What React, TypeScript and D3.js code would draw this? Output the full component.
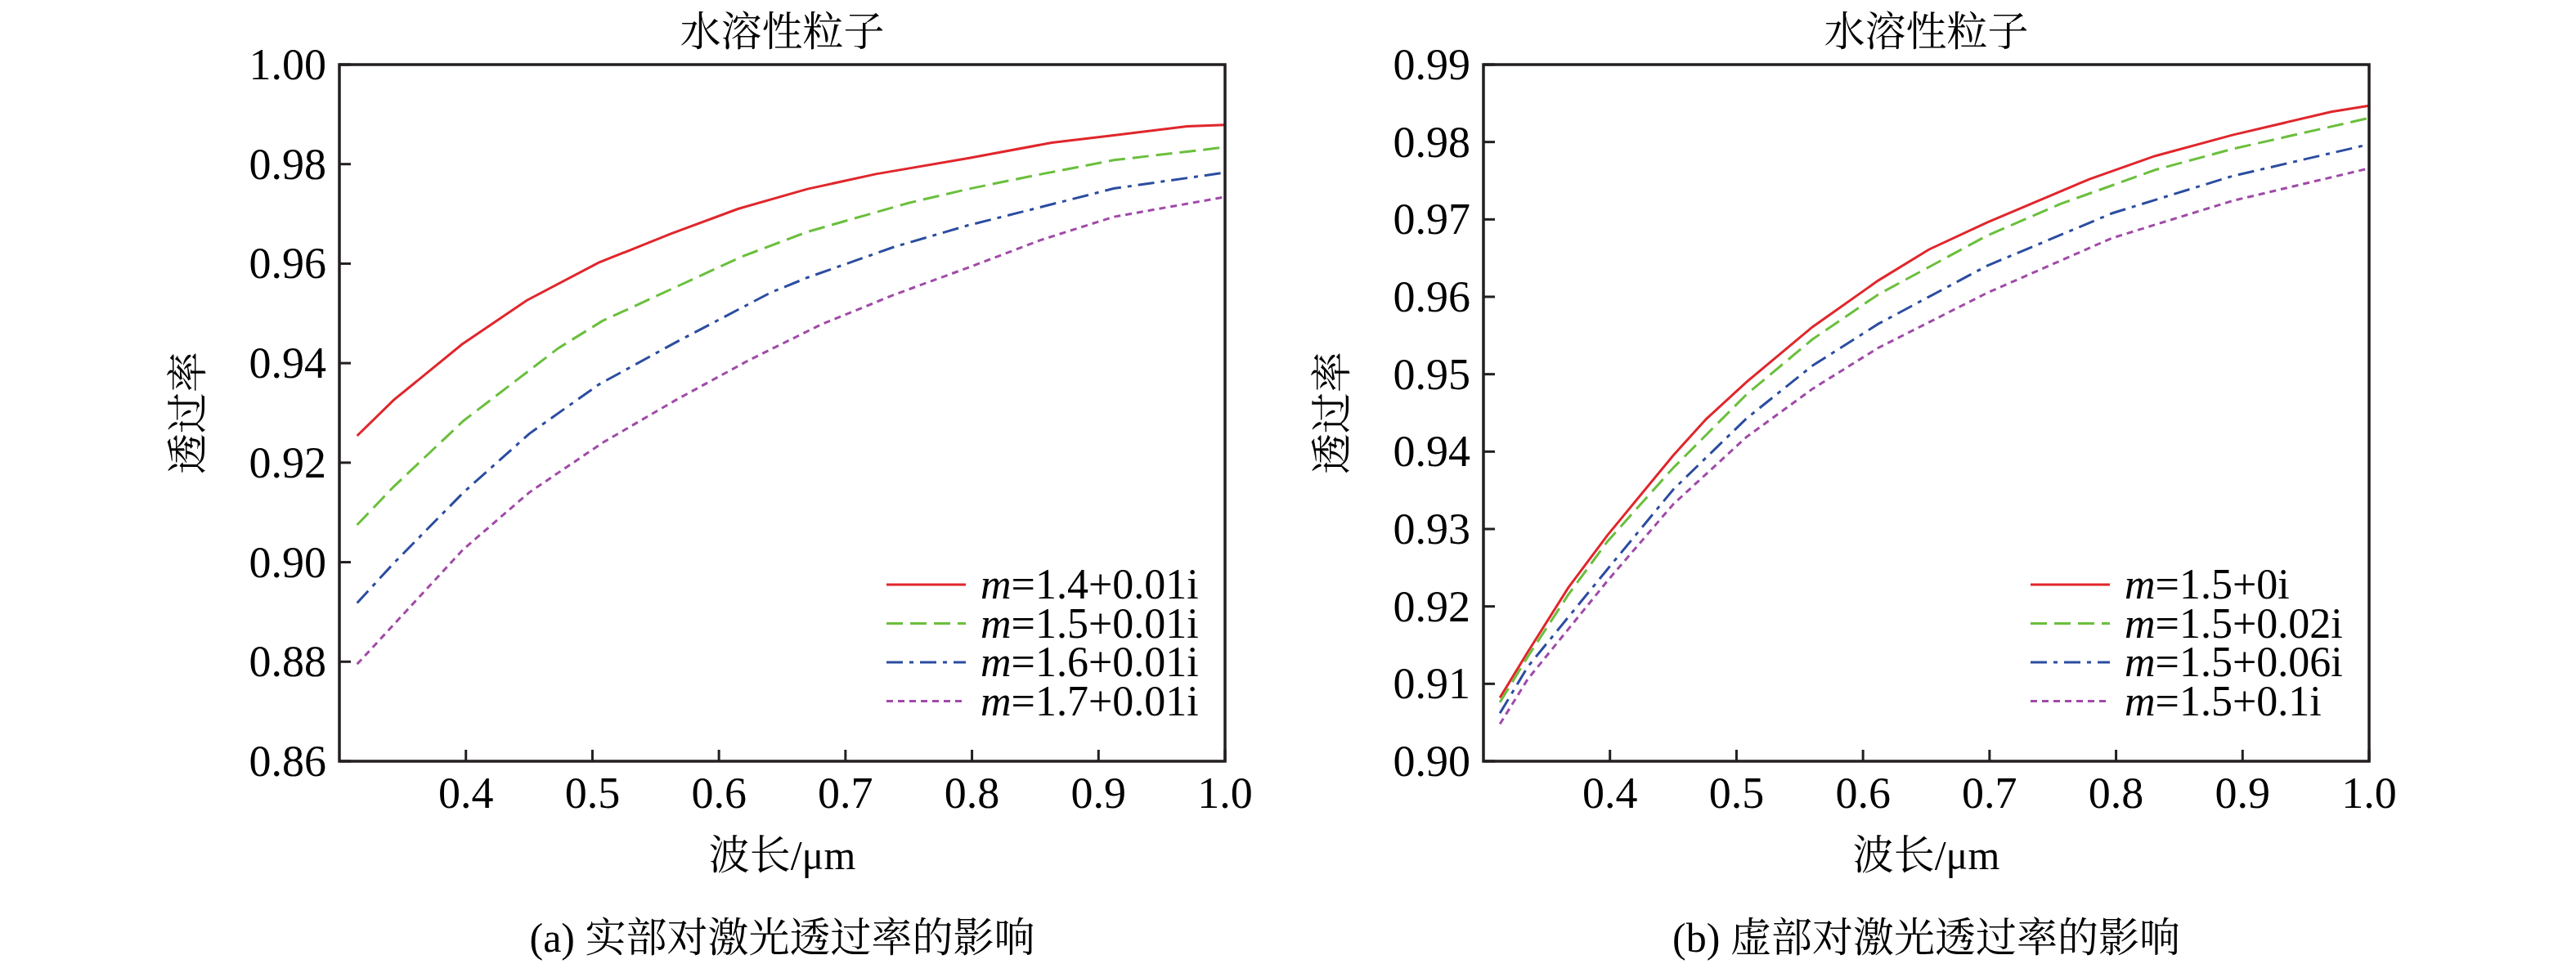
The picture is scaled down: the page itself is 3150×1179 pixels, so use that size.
import React from "react";
import * as d3 from "d3";

const W = 3150, H = 1179;
const xTicks = [0.4, 0.5, 0.6, 0.7, 0.8, 0.9, 1.0];
const yTicksA = [0.86, 0.88, 0.9, 0.92, 0.94, 0.96, 0.98, 1.0];
const yTicksB = [0.9, 0.91, 0.92, 0.93, 0.94, 0.95, 0.96, 0.97, 0.98, 0.99];

const a1x = [0.314,0.343,0.397,0.448,0.505,0.562,0.615,0.67,0.724,0.797,0.863,0.912,0.97,1.0];
const a1y = [0.9254,0.9326,0.9438,0.9526,0.9602,0.966,0.971,0.975,0.978,0.9812,0.9843,0.9858,0.9876,0.9879];
const a2x = [0.314,0.343,0.398,0.473,0.508,0.566,0.618,0.67,0.75,0.797,0.855,0.912,1.0];
const a2y = [0.9075,0.9152,0.9284,0.943,0.9485,0.9553,0.9614,0.9664,0.9722,0.975,0.978,0.9808,0.9834];
const a3x = [0.314,0.343,0.398,0.45,0.505,0.566,0.641,0.67,0.739,0.797,0.855,0.912,1.0];
const a3y = [0.8918,0.8998,0.914,0.9258,0.9357,0.9442,0.9542,0.9572,0.9634,0.9677,0.9714,0.9751,0.9783];
const a4x = [0.314,0.334,0.398,0.45,0.508,0.566,0.623,0.681,0.739,0.797,0.855,0.912,1.0];
const a4y = [0.8795,0.885,0.9026,0.914,0.924,0.9326,0.9405,0.9478,0.9538,0.9592,0.9648,0.9694,0.9734];

const b1x = [0.313,0.335,0.367,0.398,0.45,0.476,0.508,0.56,0.612,0.652,0.698,0.779,0.831,0.892,0.97,1.0];
const b1y = [0.9082,0.9141,0.9224,0.9292,0.9395,0.9442,0.949,0.9561,0.9621,0.9661,0.9696,0.9752,0.9782,0.9809,0.9839,0.9847];
const b2x = [0.313,0.335,0.367,0.398,0.45,0.508,0.56,0.612,0.698,0.756,0.831,0.892,1.0];
const b2y = [0.9076,0.9135,0.9215,0.9284,0.9379,0.9474,0.9545,0.9603,0.9679,0.972,0.9764,0.9791,0.9831];
const b3x = [0.313,0.335,0.398,0.45,0.508,0.56,0.612,0.698,0.797,0.892,1.0];
const b3y = [0.9062,0.9122,0.9248,0.9351,0.9443,0.9511,0.9565,0.964,0.9708,0.9756,0.9797];
const b4x = [0.313,0.335,0.398,0.45,0.508,0.56,0.612,0.698,0.797,0.892,1.0];
const b4y = [0.9048,0.9106,0.9233,0.9332,0.9419,0.9481,0.9534,0.9605,0.9676,0.9724,0.9766];

const labelsA = ["1.4+0.01i", "1.5+0.01i", "1.6+0.01i", "1.7+0.01i"];
const labelsB = ["1.5+0i", "1.5+0.02i", "1.5+0.06i", "1.5+0.1i"];

const colors = ["#e0262b", "#6abf3c", "#2b4da0", "#a04aa8"];
const dashes = ["none", "20,9", "20,8,5,8", "8,6"];
const FONT = "Liberation Serif, Times New Roman, Times, serif";
const CJK = "Liberation Serif, Noto Serif CJK SC, Noto Sans CJK SC, serif";

function Panel({ left, yTicks, yDom, series, labels, caption }: any) {
  const top = 79, bottom = 931, width = 1083;
  const x = d3.scaleLinear().domain([0.3, 1.0]).range([left, left + width]);
  const y = d3.scaleLinear().domain(yDom).range([bottom, top]);
  const line = d3.line<[number, number]>().x(d => x(d[0])).y(d => y(d[1]));
  const cx = left + width / 2;
  return (
    <g>
      {series.map((s: any, i: number) => (
        <path key={i} d={line(s[0].map((v: number, j: number) => [v, s[1][j]]))!} fill="none"
          stroke={colors[i]} strokeWidth={3} strokeDasharray={dashes[i]} />
      ))}
      <rect x={left} y={top} width={width} height={bottom - top} fill="none" stroke="#231f20" strokeWidth={3.5} />
      {xTicks.map(t => (
        <g key={t}>
          <line x1={x(t)} x2={x(t)} y1={bottom} y2={bottom - 14} stroke="#231f20" strokeWidth={3} />
          <text x={x(t)} y={988} textAnchor="middle" fontSize={54} fontFamily={FONT}>{t.toFixed(1)}</text>
        </g>
      ))}
      {yTicks.map((t: number) => (
        <g key={t}>
          <line x1={left} x2={left + 14} y1={y(t)} y2={y(t)} stroke="#231f20" strokeWidth={3} />
          <text x={left - 16} y={y(t) + 18} textAnchor="end" fontSize={54} fontFamily={FONT}>{t.toFixed(2)}</text>
        </g>
      ))}
      <text x={cx} y={56} textAnchor="middle" fontSize={50} fontFamily={CJK}>水溶性粒子</text>
      <text x={cx} y={1063} textAnchor="middle" fontSize={50} fontFamily={CJK}>波长/μm</text>
      <text x={cx} y={1164} textAnchor="middle" fontSize={50} fontFamily={CJK}>{caption}</text>
      <text transform={`translate(${left - 168},${(top + bottom) / 2}) rotate(-90)`} textAnchor="middle"
        fontSize={50} fontFamily={CJK}>透过率</text>
      {labels.map((l: string, i: number) => {
        const ly = 715 + i * 47.5;
        return (
          <g key={i}>
            <line x1={left + 669} x2={left + 766} y1={ly} y2={ly} stroke={colors[i]} strokeWidth={3} strokeDasharray={dashes[i]} />
            <text x={left + 784} y={ly + 17} fontSize={52} fontFamily={FONT}>
              <tspan fontStyle="italic">m</tspan>={l}
            </text>
          </g>
        );
      })}
    </g>
  );
}

export default function App() {
  return (
    <svg width={W} height={H} style={{ position: "absolute", left: 0, top: 0, background: "#fff" }}>
      <rect width={W} height={H} fill="#fff" />
      <Panel left={415} yTicks={yTicksA} yDom={[0.86, 1.0]}
        series={[[a1x, a1y], [a2x, a2y], [a3x, a3y], [a4x, a4y]]} labels={labelsA}
        caption="(a) 实部对激光透过率的影响" />
      <Panel left={1814} yTicks={yTicksB} yDom={[0.9, 0.99]}
        series={[[b1x, b1y], [b2x, b2y], [b3x, b3y], [b4x, b4y]]} labels={labelsB}
        caption="(b) 虚部对激光透过率的影响" />
    </svg>
  );
}
